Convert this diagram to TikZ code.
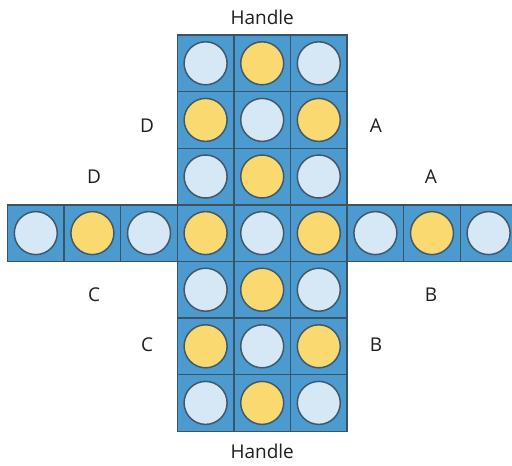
\documentclass[tikz,border=0pt]{standalone}
\usepackage{fontspec}
\setmainfont{Open Sans}
\usepackage{xcolor}
\usetikzlibrary{positioning}

\definecolor{cellblue}{RGB}{76,155,208}
\definecolor{celledge}{RGB}{58,84,100}
\definecolor{holeedge}{RGB}{66,88,104}
\definecolor{holelight}{RGB}{214,231,246}
\definecolor{pegyellow}{RGB}{250,218,112}
\definecolor{labelgray}{RGB}{30,30,30}

\begin{document}
\begin{tikzpicture}[x=1pt,y=-1pt,node distance=9pt]
  \tikzstyle{cell}=[rectangle,draw=celledge,line width=1.4pt,fill=cellblue,minimum size=56.6pt,inner sep=0pt]
  \tikzstyle{hole}=[circle,draw=holeedge,line width=1.5pt,fill=holelight,minimum size=43pt,inner sep=0pt]
  \tikzstyle{peg}=[hole,fill=pegyellow]
  \tikzstyle{face}=[inner sep=0pt,text=labelgray,font=\fontsize{19}{21}\selectfont]

  \useasboundingbox (0,0) rectangle (512,466);
  \clip (0,0) rectangle (512,466);

  % Column of the cross
  \foreach \r in {0,...,6}
    \foreach \c in {0,1,2}
      \node [cell] (cell-\r-\c) at ({205.6+56.6*\c},{63.3+56.6*\r}) {};
  % Arms of the cross
  \foreach \c in {-3,-2,-1,3,4,5}
    \node [cell] (cell-3-\c) at ({205.6+56.6*\c},{233.1}) {};

  % Holes and pegs
  \foreach \r in {0,...,6}
    \foreach \c in {0,1,2} {
      \ifodd\numexpr\r+\c\relax
        \node [peg] (hole-\r-\c) at (cell-\r-\c) {};
      \else
        \node [hole] (hole-\r-\c) at (cell-\r-\c) {};
      \fi
    }
  \foreach \c in {-3,-2,-1,3,4,5} {
    \ifodd\numexpr\c+13\relax
      \node [peg] (hole-3-\c) at (cell-3-\c) {};
    \else
      \node [hole] (hole-3-\c) at (cell-3-\c) {};
    \fi
  }

  % Handles
  \node [face, above=9pt of cell-0-1.north] (handle-top) {Handle};
  \node [face, below=12pt of cell-6-1.south] (handle-bottom) {Handle};

  % Edge letters
  \node [face] (d-inner) at (147,126) {D};
  \node [face] (a-inner) at (376,126) {A};
  \node [face] (d-outer) at (94,177) {D};
  \node [face] (a-outer) at (431,177) {A};
  \node [face] (c-outer) at (94,295) {C};
  \node [face] (b-outer) at (431,295) {B};
  \node [face] (c-inner) at (147,345) {C};
  \node [face] (b-inner) at (376,345) {B};
\end{tikzpicture}
\end{document}
